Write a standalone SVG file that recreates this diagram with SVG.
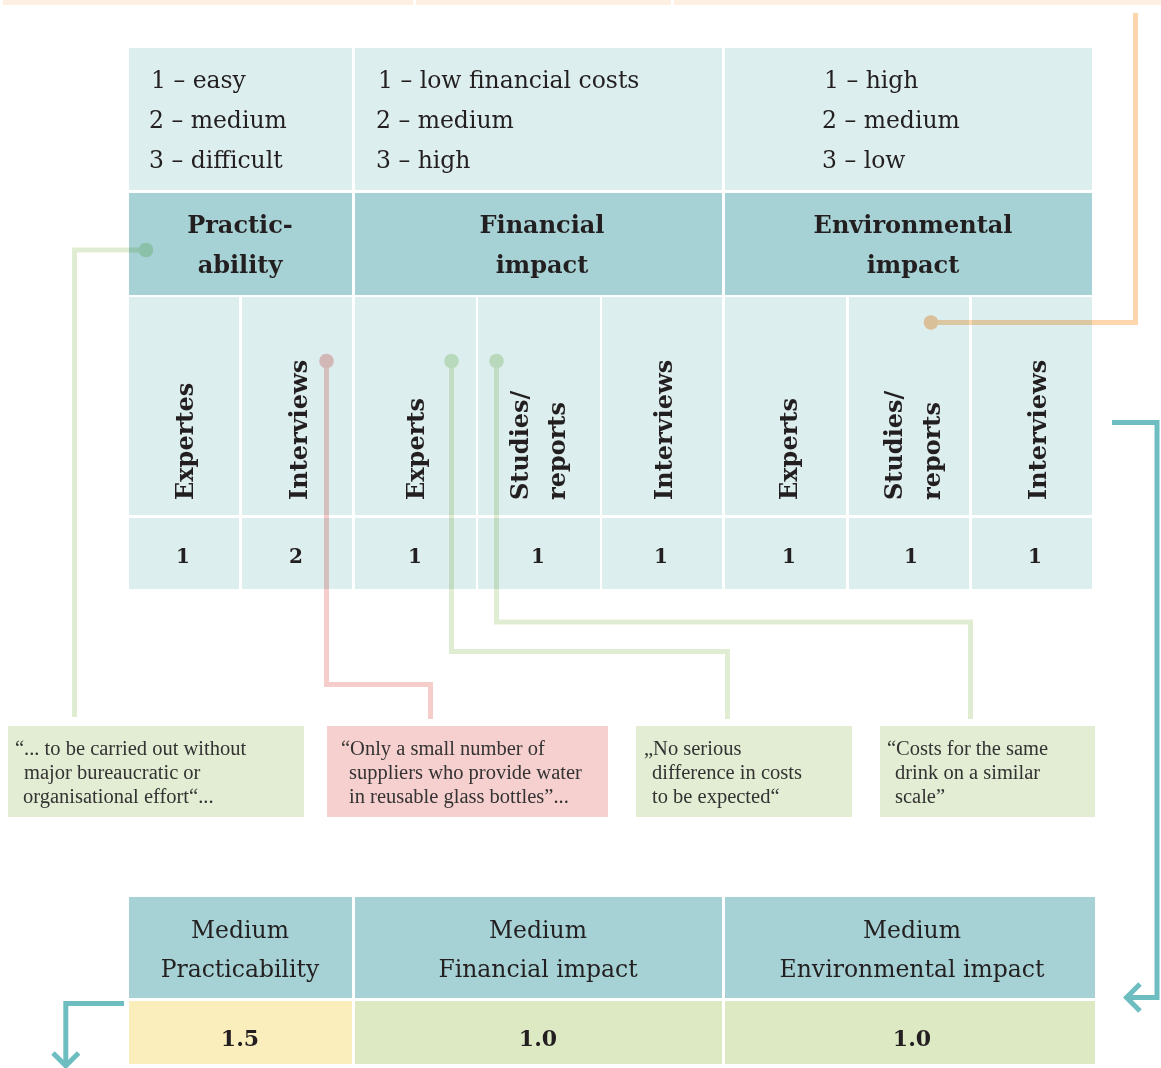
<svg xmlns="http://www.w3.org/2000/svg" width="1161" height="1068" viewBox="0 0 1161 1068">
<style>
.lt{fill:#DDEEEE}
.hd{fill:#A6D2D5}
.pk{fill:#FDEFE2}
.leg{font-family:"DejaVu Serif","Liberation Serif",serif;font-size:23.5px;fill:#231F20}
.hb{font-family:"DejaVu Serif","Liberation Serif",serif;font-size:24px;font-weight:bold;fill:#231F20;text-anchor:middle}
.rot{font-family:"DejaVu Serif","Liberation Serif",serif;font-size:24px;font-weight:bold;fill:#231F20}
.num{font-family:"DejaVu Serif","Liberation Serif",serif;font-size:20px;font-weight:bold;fill:#231F20;text-anchor:middle}
.bh{font-family:"DejaVu Serif","Liberation Serif",serif;font-size:23.5px;fill:#231F20;text-anchor:middle}
.bv{font-family:"DejaVu Serif","Liberation Serif",serif;font-size:22px;font-weight:bold;fill:#231F20;text-anchor:middle}
.q{font-family:"Liberation Serif",serif;font-size:20.5px;fill:#333333}
.qg{fill:#E2EDD3}
.qp{fill:#F6D0CE}
.cn{mix-blend-mode:multiply}
.ln{fill:none;stroke-width:5}
.ar{fill:none;stroke:#6DBDC1;stroke-width:5}
</style>

<g id="top-strip">
<rect class="pk" x="3" y="0" width="410" height="5"/>
<rect class="pk" x="416" y="0" width="255" height="5"/>
<rect class="pk" x="674" y="0" width="487" height="5"/>
</g>

<g id="legend-row">
<rect class="lt" x="129" y="48" width="223" height="142"/>
<rect class="lt" x="355" y="48" width="367" height="142"/>
<rect class="lt" x="725" y="48" width="367" height="142"/>
<text class="leg" x="151" y="88">1 – easy</text>
<text class="leg" x="149" y="128">2 – medium</text>
<text class="leg" x="149" y="168">3 – difficult</text>
<text class="leg" x="378" y="88">1 – low financial costs</text>
<text class="leg" x="376" y="128">2 – medium</text>
<text class="leg" x="376" y="168">3 – high</text>
<text class="leg" x="824" y="88">1 – high</text>
<text class="leg" x="822" y="128">2 – medium</text>
<text class="leg" x="822" y="168">3 – low</text>
</g>

<g id="header-practicability">
<rect class="hd" x="129" y="193" width="223" height="102"/>
<text class="hb" x="240" y="233">Practic-</text>
<text class="hb" x="240" y="273">ability</text>
</g>
<g id="header-financial">
<rect class="hd" x="355" y="193" width="367" height="102"/>
<text class="hb" x="542" y="233">Financial</text>
<text class="hb" x="542" y="273">impact</text>
</g>
<g id="header-environmental">
<rect class="hd" x="725" y="193" width="367" height="102"/>
<text class="hb" x="913" y="233">Environmental</text>
<text class="hb" x="913" y="273">impact</text>
</g>

<g id="source-cells">
<rect class="lt" x="129" y="297" width="110" height="218"/>
<rect class="lt" x="242" y="297" width="110" height="218"/>
<rect class="lt" x="355" y="297" width="121" height="218"/>
<rect class="lt" x="478" y="297" width="122" height="218"/>
<rect class="lt" x="602" y="297" width="120" height="218"/>
<rect class="lt" x="725" y="297" width="121" height="218"/>
<rect class="lt" x="849" y="297" width="120" height="218"/>
<rect class="lt" x="972" y="297" width="120" height="218"/>
<text class="rot" transform="translate(193,500) rotate(-90)">Expertes</text>
<text class="rot" transform="translate(307,500) rotate(-90)">Interviews</text>
<text class="rot" transform="translate(424,500) rotate(-90)">Experts</text>
<text class="rot" transform="translate(528,500) rotate(-90)">Studies/</text>
<text class="rot" transform="translate(565,500) rotate(-90)">reports</text>
<text class="rot" transform="translate(672,500) rotate(-90)">Interviews</text>
<text class="rot" transform="translate(797,500) rotate(-90)">Experts</text>
<text class="rot" transform="translate(902,500) rotate(-90)">Studies/</text>
<text class="rot" transform="translate(940,500) rotate(-90)">reports</text>
<text class="rot" transform="translate(1046,500) rotate(-90)">Interviews</text>
</g>

<g id="score-cells">
<rect class="lt" x="129" y="518" width="110" height="71"/>
<rect class="lt" x="242" y="518" width="110" height="71"/>
<rect class="lt" x="355" y="518" width="121" height="71"/>
<rect class="lt" x="478" y="518" width="122" height="71"/>
<rect class="lt" x="602" y="518" width="120" height="71"/>
<rect class="lt" x="725" y="518" width="121" height="71"/>
<rect class="lt" x="849" y="518" width="120" height="71"/>
<rect class="lt" x="972" y="518" width="120" height="71"/>
<text class="num" x="183" y="563">1</text>
<text class="num" x="296" y="563">2</text>
<text class="num" x="415" y="563">1</text>
<text class="num" x="538" y="563">1</text>
<text class="num" x="661" y="563">1</text>
<text class="num" x="789" y="563">1</text>
<text class="num" x="911" y="563">1</text>
<text class="num" x="1035" y="563">1</text>
</g>

<g id="quote-1">
<rect class="qg" x="8" y="726" width="296" height="91"/>
<text class="q" x="15" y="755">“... to be carried out without</text>
<text class="q" x="24" y="779">major bureaucratic or</text>
<text class="q" x="23" y="803">organisational effort“...</text>
</g>
<g id="quote-2">
<rect class="qp" x="327" y="726" width="281" height="91"/>
<text class="q" x="341" y="755">“Only a small number of</text>
<text class="q" x="349" y="779">suppliers who provide water</text>
<text class="q" x="349" y="803">in reusable glass bottles”...</text>
</g>
<g id="quote-3">
<rect class="qg" x="636" y="726" width="216" height="91"/>
<text class="q" x="644" y="755">„No serious</text>
<text class="q" x="652" y="779">difference in costs</text>
<text class="q" x="652" y="803">to be expected“</text>
</g>
<g id="quote-4">
<rect class="qg" x="880" y="726" width="215" height="91"/>
<text class="q" x="887" y="755">“Costs for the same</text>
<text class="q" x="895" y="779">drink on a similar</text>
<text class="q" x="895" y="803">scale”</text>
</g>

<g id="result-practicability">
<rect class="hd" x="129" y="897" width="223" height="101"/>
<rect x="129" y="1001" width="223" height="63" fill="#FBEEBD"/>
<text class="bh" x="240" y="938">Medium</text>
<text class="bh" x="240" y="977">Practicability</text>
<text class="bv" x="240" y="1046">1.5</text>
</g>
<g id="result-financial">
<rect class="hd" x="355" y="897" width="367" height="101"/>
<rect x="355" y="1001" width="367" height="63" fill="#DCE9C3"/>
<text class="bh" x="538" y="938">Medium</text>
<text class="bh" x="538" y="977">Financial impact</text>
<text class="bv" x="538" y="1046">1.0</text>
</g>
<g id="result-environmental">
<rect class="hd" x="725" y="897" width="370" height="101"/>
<rect x="725" y="1001" width="370" height="63" fill="#DCE9C3"/>
<text class="bh" x="912" y="938">Medium</text>
<text class="bh" x="912" y="977">Environmental impact</text>
<text class="bv" x="912" y="1046">1.0</text>
</g>

<g id="connectors">
<g class="cn">
<path class="ln" stroke="#E1EDD2" d="M146,250 H74.5 V717"/>
<circle cx="146" cy="250" r="7.3" fill="#D6E9CB"/>
</g>
<g class="cn">
<path class="ln" stroke="#F6CDCB" d="M326.5,361 V684.5 H430.5 V719"/>
<circle cx="326.5" cy="361" r="7.3" fill="#F2C4C2"/>
</g>
<g class="cn">
<path class="ln" stroke="#E1EDD2" d="M451.5,361 V651.5 H727.5 V719"/>
<circle cx="451.5" cy="361" r="7.3" fill="#D6E9CB"/>
</g>
<g class="cn">
<path class="ln" stroke="#E1EDD2" d="M496.5,361 V622 H970.5 V719"/>
<circle cx="496.5" cy="361" r="7.3" fill="#D6E9CB"/>
</g>
<g class="cn">
<path class="ln" stroke="#FDD6AE" d="M1135.5,13 V322.5 H931"/>
<circle cx="931" cy="322.5" r="7.3" fill="#FBCEA3"/>
</g>
<path class="ar" d="M1112,422.5 H1157 V997.5 H1127"/>
<path class="ar" d="M1140,984 L1126.5,997.5 L1140,1011"/>
<path class="ar" d="M124,1003.5 H65.8 V1064"/>
<path class="ar" d="M53,1053 L65.8,1065.8 L78.6,1053"/>
</g>
</svg>
